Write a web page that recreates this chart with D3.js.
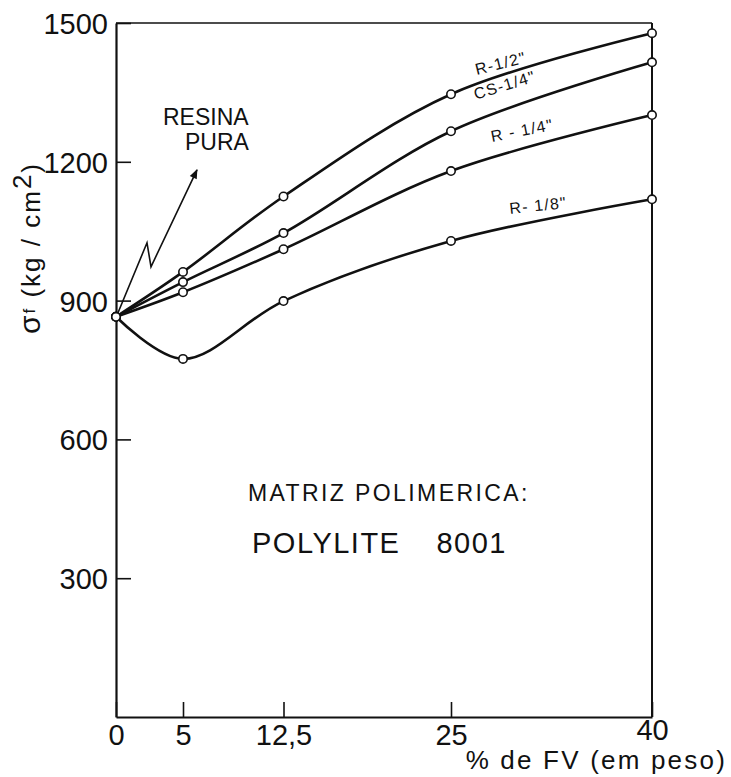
<!DOCTYPE html>
<html>
<head>
<meta charset="utf-8">
<script src="https://cdn.jsdelivr.net/npm/d3@7"></script>
<style>
    body { margin: 0; background: #fff; }
    text { font-family: "Liberation Sans", Arial, sans-serif; fill: #111; }
</style>
</head>
<body>
<div id="chart"></div>
<script>

// % de fibra de vidro (em peso)
const pctFV = [0, 5, 12.5, 25, 40];

// flexural strength, kg/cm2, one list per reinforcement
const seriesNames = ['R-1/2"', 'CS-1/4"', 'R - 1/4"', 'R- 1/8"'];
const valuesR12 = [865, 962, 1125, 1346, 1478];
const valuesCS14 = [865, 940, 1046, 1266, 1415];
const valuesR14 = [865, 918, 1011, 1180, 1301];
const valuesR18 = [865, 774, 899, 1029, 1119];

const yTicks = [300, 600, 900, 1200, 1500];
const xTicks = [0, 5, 12.5, 25, 40];

class FlexuralChart {

    constructor(_parentElement) {
        this.parentElement = _parentElement;
        this.series = [valuesR12, valuesCS14, valuesR14, valuesR18].map((vals, i) => ({
            name: seriesNames[i],
            points: pctFV.map((p, j) => ({ pct: p, value: vals[j] }))
        }));
        this.initVis();
    }

    initVis() {
        let vis = this;

        vis.margin = { top: 23, right: 79, bottom: 60, left: 116 };
        vis.width = 731 - vis.margin.left - vis.margin.right;
        vis.height = 777 - vis.margin.top - vis.margin.bottom;

        vis.svg = d3.select("#" + vis.parentElement).append("svg")
            .attr("width", 731)
            .attr("height", 777)
            .append("g")
            .attr("transform", "translate(" + vis.margin.left + "," + vis.margin.top + ")");

        vis.xScale = d3.scaleLinear().domain([0, 40]).range([0, vis.width]);
        vis.yScale = d3.scaleLinear().domain([0, 1500]).range([vis.height, 0]);

        // frame: top and right edges
        vis.svg.append("line")
            .attr("x1", 0).attr("x2", vis.width)
            .attr("y1", 0).attr("y2", 0)
            .attr("stroke", "#111").attr("stroke-width", 1.6);
        vis.svg.append("line")
            .attr("x1", vis.width).attr("x2", vis.width)
            .attr("y1", 0).attr("y2", vis.height)
            .attr("stroke", "#111").attr("stroke-width", 2);

        // axes, ticks pointing inward
        vis.yAxis = d3.axisLeft(vis.yScale)
            .tickValues(yTicks)
            .tickSizeInner(-15)
            .tickSizeOuter(0)
            .tickPadding(8)
            .tickFormat(d3.format("d"));

        vis.xAxis = d3.axisBottom(vis.xScale)
            .tickValues(xTicks)
            .tickSizeInner(-15)
            .tickSizeOuter(0)
            .tickPadding(7)
            .tickFormat(d => String(d).replace(".", ","));

        let yG = vis.svg.append("g").attr("class", "y-axis").call(vis.yAxis);
        let xG = vis.svg.append("g").attr("class", "x-axis")
            .attr("transform", "translate(0," + vis.height + ")")
            .call(vis.xAxis);

        [yG, xG].forEach(g => {
            g.attr("font-family", null).attr("font-size", null);
            g.select(".domain").attr("stroke", "#111").attr("stroke-width", 2.2);
            g.selectAll(".tick line").attr("stroke", "#111").attr("stroke-width", 1.6);
            g.selectAll(".tick text").attr("fill", "#111").style("font-size", "29px");
        });
        yG.selectAll(".tick text").attr("dy", "0.36em");
        // the last label sits a little higher, above the axis title
        xG.selectAll(".tick text").filter(d => d === 40).attr("dy", "0.55em");

        // axis titles
        vis.svg.append("text")
            .attr("x", 727 - vis.margin.left)
            .attr("y", vis.height + 52)
            .attr("text-anchor", "end")
            .style("font-size", "26px")
            .style("letter-spacing", "2.2px")
            .text("% de FV (em peso)");

        let yTitle = vis.svg.append("text")
            .attr("transform", "translate(" + (40 - vis.margin.left) + "," + (248 - vis.margin.top) + ") rotate(-90)")
            .attr("text-anchor", "middle")
            .style("font-size", "26px")
            .style("letter-spacing", "2px");
        yTitle.append("tspan").style("font-size", "30px").text("σ");
        yTitle.append("tspan").style("font-size", "17px").attr("dy", "-5").text("f");
        yTitle.append("tspan").attr("dy", "5").text(" (kg / cm");
        yTitle.append("tspan").attr("dy", "-9").text("2");
        yTitle.append("tspan").attr("dy", "9").text(")");

        // curves
        let line = d3.line()
            .x(d => vis.xScale(d.pct))
            .y(d => vis.yScale(d.value))
            .curve(d3.curveCatmullRom.alpha(0.5));

        vis.series.forEach(s => {
            vis.svg.append("path")
                .datum(s.points)
                .attr("fill", "none")
                .attr("stroke", "#111")
                .attr("stroke-width", 2.6)
                .attr("d", line);
        });

        vis.series.forEach(s => {
            vis.svg.selectAll(null)
                .data(s.points)
                .enter()
                .append("circle")
                .attr("cx", d => vis.xScale(d.pct))
                .attr("cy", d => vis.yScale(d.value))
                .attr("r", 4.2)
                .attr("fill", "#fff")
                .attr("stroke", "#111")
                .attr("stroke-width", 1.6);
        });

        // curve labels, set along each curve
        let labelSpots = [
            { pct: 28.7, value: 1413, angle: -14 },
            { pct: 29.0, value: 1366, angle: -17 },
            { pct: 30.3, value: 1268, angle: -11 },
            { pct: 31.5, value: 1106, angle: -6 }
        ];
        labelSpots.forEach((l, i) => {
            vis.svg.append("text")
                .attr("transform", "translate(" + vis.xScale(l.pct) + "," + vis.yScale(l.value) + ") rotate(" + l.angle + ")")
                .attr("text-anchor", "middle")
                .attr("dy", "0.35em")
                .style("font-size", "16px")
                .style("letter-spacing", "1.2px")
                .text(seriesNames[i]);
        });

        // "resina pura" note with zigzag arrow to the origin
        let ox = vis.xScale(0), oy = vis.yScale(865);
        vis.svg.append("defs").append("marker")
            .attr("id", "arrowhead")
            .attr("viewBox", "0 0 10 10")
            .attr("refX", 9).attr("refY", 5)
            .attr("markerWidth", 7).attr("markerHeight", 6)
            .attr("markerUnits", "strokeWidth")
            .attr("orient", "auto")
            .append("path")
            .attr("d", "M0,1 L10,5 L0,9 z")
            .attr("fill", "#111");

        let zig = [[2, -4], [31, -74], [35, -50], [81, -147]];
        vis.svg.append("path")
            .attr("d", d3.line()(zig.map(p => [ox + p[0], oy + p[1]])))
            .attr("fill", "none")
            .attr("stroke", "#111")
            .attr("stroke-width", 1.6)
            .attr("marker-end", "url(#arrowhead)");

        vis.svg.append("text")
            .attr("x", 163 - vis.margin.left).attr("y", 125 - vis.margin.top)
            .style("font-size", "23px")
            .text("RESINA");
        vis.svg.append("text")
            .attr("x", 185 - vis.margin.left).attr("y", 150 - vis.margin.top)
            .style("font-size", "23px")
            .text("PURA");

        // matrix note
        vis.svg.append("text")
            .attr("x", 248 - vis.margin.left).attr("y", 501 - vis.margin.top)
            .style("font-size", "23px")
            .style("letter-spacing", "2.4px")
            .text("MATRIZ  POLIMERICA:");
        let poly = vis.svg.append("text")
            .attr("x", 252 - vis.margin.left).attr("y", 553 - vis.margin.top)
            .style("font-size", "29px")
            .style("letter-spacing", "1.5px");
        poly.append("tspan").text("POLYLITE");
        poly.append("tspan").attr("dx", 36).text("8001");
    }
}

new FlexuralChart("chart");
</script>
</body>
</html>
